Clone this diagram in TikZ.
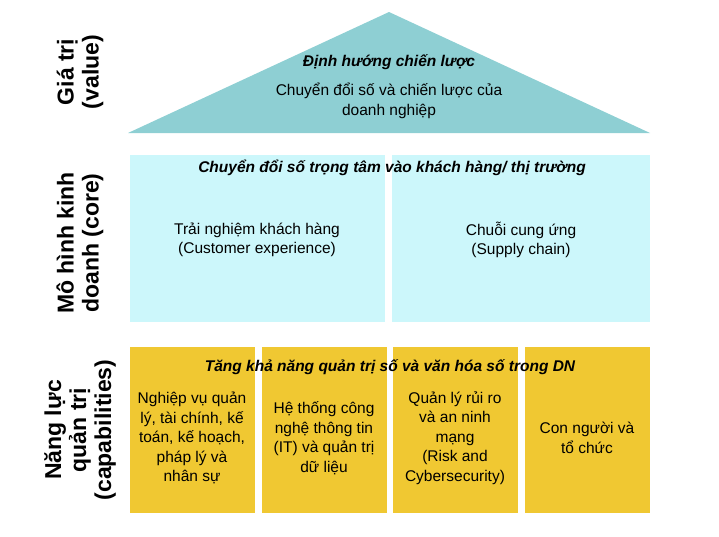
\documentclass[tikz,border=0pt]{standalone}
\usepackage{fontspec}
\setmainfont{Liberation Sans}
\definecolor{teal}{HTML}{8ECFD3}
\definecolor{cyan}{HTML}{CCF7FB}
\definecolor{gold}{HTML}{F0C832}
\tikzset{%
    part/.style={text=black, align=center, font=\fontsize{15.5}{19.5}\selectfont},
    head/.style={font=\fontsize{15.5}{19}\selectfont\bfseries\itshape},
    side/.style={rotate=90, align=center, font=\fontsize{23}{25}\selectfont\bfseries}
}
\begin{document}
\begin{tikzpicture}[x=1pt, y=-1pt]

    \useasboundingbox (0, 0) rectangle (719, 536);

    %%%%%%%%%%%%
    % Value
    \fill[teal] (128, 133) -- (389, 12) -- (650, 133) -- cycle;
    \node[head] (vhead) at (389, 62) {Định hướng chiến lược};
    \node[part] (vtext) at (389, 101)
        {Chuyển đổi số và chiến lược của\\doanh nghiệp};

    %%%%%%%%%%%%
    % Core
    \fill[cyan] (130, 155) rectangle (385, 322);
    \fill[cyan] (392, 155) rectangle (650, 322);
    \node[head] (chead) at (392, 168)
        {Chuyển đổi số trọng tâm vào khách hàng/ thị trường};
    \node[part] (cx) at (257, 240)
        {Trải nghiệm khách hàng\\(Customer experience)};
    \node[part] (sc) at (521, 240) {Chuỗi cung ứng\\(Supply chain)};

    %%%%%%%%%%%%
    % Capabilities
    \foreach \x in {130, 262, 393, 525}{%
        \fill[gold] (\x, 347) rectangle ++(125, 166);
    };
    \node[head] (khead) at (390, 367)
        {Tăng khả năng quản trị số và văn hóa số trong DN};
    \node[part] (ops) at (192, 438)
        {Nghiệp vụ quản\\lý, tài chính, kế\\toán, kế hoạch,\\pháp lý và\\nhân sự};
    \node[part] (it) at (324, 438)
        {Hệ thống công\\nghệ thông tin\\(IT) và quản trị\\dữ liệu};
    \node[part] (risk) at (455, 438)
        {Quản lý rủi ro\\và an ninh\\mạng\\(Risk and\\Cybersecurity)};
    \node[part] (org) at (587, 438) {Con người và\\tổ chức};

    % Side labels
    \node[side] (lvalue) at (80, 72) {Giá trị\\(value)};
    \node[side] (lcore) at (80, 243) {Mô hình kinh\\doanh (core)};
    \node[side] (lcap) at (80, 430) {Năng lực\\quản trị\\(capabilities)};

\end{tikzpicture}
\end{document}
